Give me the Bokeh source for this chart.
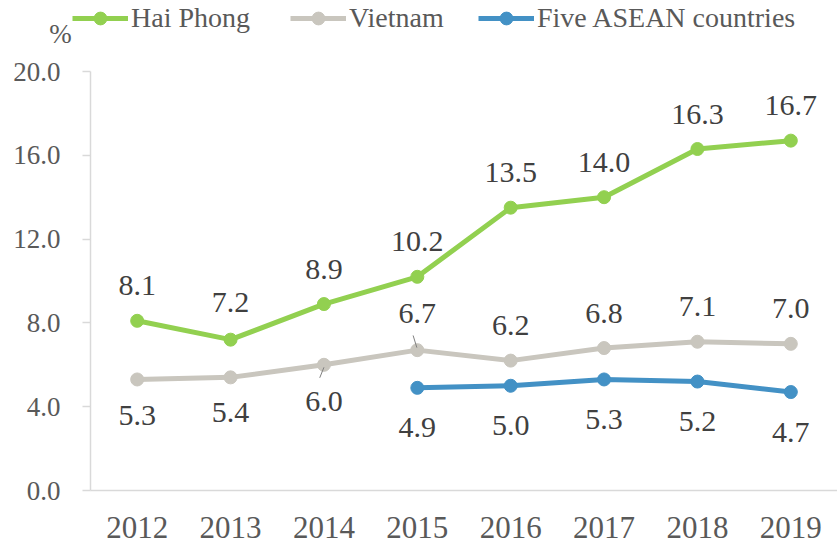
from bokeh.plotting import figure
from bokeh.layouts import column
from bokeh.models import (FactorRange, Range1d, Legend, LegendItem, Label,
                          FixedTicker, ColumnDataSource, CustomJSTickFormatter)
from bokeh.embed import file_html
from bokeh.resources import INLINE
from bokeh.core.properties import value

years = ["2012", "2013", "2014", "2015", "2016", "2017", "2018", "2019"]
hai_phong = [8.1, 7.2, 8.9, 10.2, 13.5, 14.0, 16.3, 16.7]
vietnam = [5.3, 5.4, 6.0, 6.7, 6.2, 6.8, 7.1, 7.0]
asean_years = ["2015", "2016", "2017", "2018", "2019"]
asean = [4.9, 5.0, 5.3, 5.2, 4.7]
y_ticks = [0, 4, 8, 12, 16, 20]
series_names = ["Hai Phong", "Vietnam", "Five ASEAN countries"]

# label placement (screen px, positive = downward in bokeh text offsets)
hp_off = [-35, -37, -35, -35, -35, -35, -35, -35]
vn_off = [36, 35, 37, -37, -35, -35, -35, -35]
as_off = [40, 40, 40, 40, 40]

GREEN = "#92D050"
GREY = "#C9C6BE"
BLUE = "#4391C5"
FONT = "Liberation Serif"
LBL = "#404040"
TXT = "#595959"
AX = "#D9D9D9"

W = 837
HEAD_H = 50
MAIN_H = 545 - HEAD_H

# ---------- header (legend + unit) ----------
h = figure(width=W, height=HEAD_H, x_range=Range1d(0, W), y_range=Range1d(0, HEAD_H),
           x_axis_type=None, y_axis_type=None, output_backend="svg",
           toolbar_location=None, min_border=0, min_border_left=0,
           min_border_right=0, min_border_top=0, min_border_bottom=0)
h.outline_line_color = None
h.grid.visible = False
if "frame_align" in h.properties():
    h.frame_align = False

cols = [GREEN, GREY, BLUE]
leg_x = [72, 290, 478]
for name, col, x in zip(series_names, cols, leg_x):
    # legend-only renderers, kept outside the header's visible range
    l = h.line(x=[-100, -90], y=[-100, -100], line_color=col, line_width=5)
    s = h.scatter(x=[-100], y=[-100], size=13, fill_color=col, line_color=col)
    lg = Legend(items=[LegendItem(label=name, renderers=[l, s])],
                location=(x, HEAD_H - 34), orientation="horizontal",
                glyph_width=56, glyph_height=32, label_standoff=3,
                padding=0, margin=0, spacing=0,
                border_line_alpha=0, background_fill_alpha=0,
                label_text_font=FONT, label_text_font_size="28px",
                label_text_color=TXT, label_height=32)
    h.add_layout(lg, "center")

h.add_layout(Label(x=60, y=HEAD_H - 33, text="%", text_font=FONT,
                   text_font_size="27px", text_color=TXT,
                   text_align="center", text_baseline="middle"))

# ---------- main chart ----------
p = figure(x_range=FactorRange(factors=years, range_padding=0),
           y_range=Range1d(0, 20),
           width=W, height=MAIN_H, output_backend="svg", toolbar_location=None,
           min_border_left=90, min_border_right=0, min_border_top=71 - HEAD_H,
           min_border_bottom=55)
p.outline_line_color = None
p.grid.visible = False
if "frame_align" in p.properties():
    p.frame_align = False

p.yaxis.ticker = FixedTicker(ticks=y_ticks)
p.yaxis.formatter = CustomJSTickFormatter(code="return tick.toFixed(1);")
p.yaxis.axis_line_color = AX
p.yaxis.axis_line_width = 1.5
p.yaxis.major_tick_line_color = AX
p.yaxis.major_tick_line_width = 1.5
p.yaxis.major_tick_out = 8
p.yaxis.major_tick_in = 0
p.yaxis.minor_tick_line_color = None
p.yaxis.major_label_text_font = FONT
p.yaxis.major_label_text_font_size = "27px"
p.yaxis.major_label_text_color = TXT
p.yaxis.major_label_standoff = 22

p.xaxis.axis_line_color = AX
p.xaxis.axis_line_width = 1.5
p.xaxis.major_tick_line_color = None
p.xaxis.minor_tick_line_color = None
p.xaxis.major_label_text_font = FONT
p.xaxis.major_label_text_font_size = "31px"
p.xaxis.major_label_text_color = TXT
p.xaxis.major_label_standoff = 20

src_hp = ColumnDataSource(dict(x=years, y=hai_phong, t=[f"{v:.1f}" for v in hai_phong], o=hp_off))
src_vn = ColumnDataSource(dict(x=years, y=vietnam, t=[f"{v:.1f}" for v in vietnam], o=vn_off))
src_as = ColumnDataSource(dict(x=asean_years, y=asean, t=[f"{v:.1f}" for v in asean], o=as_off))

for src, col in [(src_vn, GREY), (src_as, BLUE), (src_hp, GREEN)]:
    p.line("x", "y", source=src, line_color=col, line_width=5)
    p.scatter("x", "y", source=src, size=13, fill_color=col, line_color=col)
    p.text("x", "y", text="t", source=src, y_offset="o", text_font=value(FONT),
           text_font_size="30px", text_color=LBL, text_align="center",
           text_baseline="middle")

# leader lines for two Vietnam labels (derived from data)
i14 = years.index("2014")
i15 = years.index("2015")
p.segment(x0=[i14 + 0.5 - 0.045, i15 + 0.5 - 0.045],
          y0=[vietnam[i14] - 0.62, vietnam[i15] + 0.7],
          x1=[i14 + 0.5, i15 + 0.5 - 0.005],
          y1=[vietnam[i14] - 0.12, vietnam[i15] + 0.12],
          line_color="#7F7F7F", line_width=1)

layout = column(h, p, spacing=0)
open("out.html", "w").write(file_html(layout, INLINE))
